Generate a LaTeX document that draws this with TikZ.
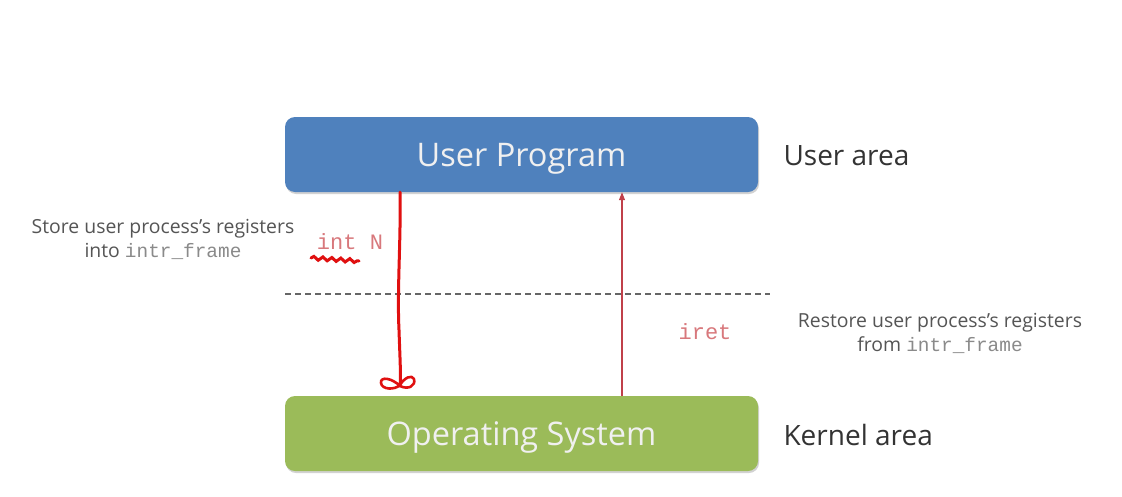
\documentclass[tikz,border=0pt]{standalone}
\usepackage{fontspec}
\setmainfont{Open Sans}
\setmonofont{Liberation Mono}
\usetikzlibrary{shadows,decorations.pathmorphing,arrows.meta}
\definecolor{ublue}{HTML}{4F81BD}
\definecolor{kgreen}{HTML}{9BBB59}
\definecolor{penred}{HTML}{E01010}
\definecolor{thinred}{HTML}{C0404A}
\definecolor{codepink}{HTML}{D8787C}
\definecolor{txtgray}{HTML}{555555}
\definecolor{codegray}{HTML}{8A8A8A}
\tikzset{
  areabox/.style={draw=none, rounded corners=10pt, minimum width=473pt, minimum height=75pt,
    text=white!94!black, font=\fontsize{32.5}{36}\selectfont,
    drop shadow={shadow xshift=1pt, shadow yshift=-2pt, opacity=0.35}},
  arealabel/.style={anchor=west, text=black!80, font=\fontsize{28}{32}\selectfont},
  note/.style={align=center, text=txtgray, font=\fontsize{19.4}{24}\selectfont},
  code/.style={text=codepink, font=\ttfamily\fontsize{22}{24}\selectfont},
}
\newcommand{\cg}[1]{{\ttfamily\color{codegray}#1}}
\newcommand{\lowered}[1]{\raisebox{-12pt}[0pt][0pt]{#1}}
\begin{document}
\begin{tikzpicture}[x=1pt,y=-1pt]
\useasboundingbox (0,0) rectangle (1122,496);
\fill[white] (0,0) rectangle (1122,496);
\node[areabox, fill=ublue] (user) at (521.5,154.5) {\lowered{User Program}};
\node[areabox, fill=kgreen] (os) at (521.5,433.5) {\lowered{Operating System}};
\node[arealabel] (ua) at (780,156) {User area};
\node[arealabel] (ka) at (780,435) {Kernel area};
\coordinate (dl) at (285,294);
\coordinate (dr) at (770,294);
\draw[dashed, line width=1.2pt, black!60, dash pattern=on 6pt off 4pt] (dl) -- (dr);
\node[note] (store) at (163,239) {Store user process’s registers\\into \cg{intr\_frame}};
\node[note] (restore) at (940,333) {Restore user process’s registers\\from \cg{intr\_frame}};
\node[code] (intn) at (350,242) {int N};
\node[code] (iret) at (705,332) {iret};
% thin return arrow
\coordinate (xr) at (622,0);
\coordinate (xp) at (400,0);
\draw[thinred, line width=1.1pt, -{Triangle[length=8pt,width=6pt]}] (xr |- os.north) -- (xr |- user.south);
% hand drawn red arrow
\coordinate (pstart) at (xp |- user.south);
\coordinate (pend) at (400,386);
\draw[penred, line width=3pt, line cap=round, line join=round]
  (pstart) .. controls (401,240) and (397,290) .. (399,330)
  .. controls (400,360) and (401,375) .. (pend);
\draw[penred, line width=2.6pt, line cap=round, line join=round]
  (pend) .. controls (392,378) and (380,376) .. (381,383)
  .. controls (382,390) and (395,390) .. (400,385)
  .. controls (404,378) and (412,374) .. (414,379)
  .. controls (416,386) and (408,390) .. (400,386);
% squiggle under int
\coordinate (sqa) at (311,258);
\coordinate (sqb) at (359,261);
\draw[penred, line width=3pt, line cap=round,
  decorate, decoration={snake, segment length=9pt, amplitude=1.8pt}] (sqa) -- (sqb);
\end{tikzpicture}
\end{document}
